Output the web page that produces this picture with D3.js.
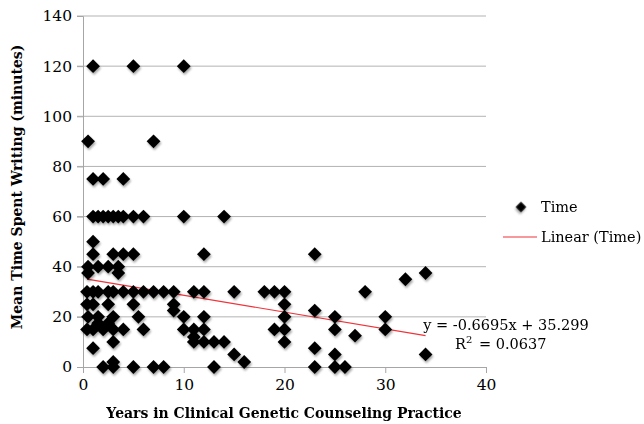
<!DOCTYPE html>
<html>
<head>
<meta charset="utf-8">
<script src="https://cdn.jsdelivr.net/npm/d3@7"></script>
<style>
  body { margin: 0; background: #fff; }
  text { font-family: "DejaVu Serif", "Liberation Serif", serif; fill: #000; }
</style>
</head>
<body>
<div id="chart"></div>
<script>
// years in practice / mean minutes spent writing
const years = [
    1, 5, 10,
    0.5, 7,
    1, 2, 4,
    1, 1.5, 2, 2.5, 3, 3.5, 4, 5, 6, 10, 14,
    1,
    1, 3, 4, 5, 12, 23,
    0.5, 1.5, 2.5, 3.5,
    0.5, 3.5, 34,
    32,
    0.4, 1, 1.5, 2.5, 3, 4, 5, 6, 7, 8, 9, 11, 12, 15, 18, 19, 20, 28,
    0.4, 1, 2.5, 5, 9, 20,
    9, 23,
    0.5, 1.5, 3, 5.5, 10, 12, 20, 25, 30,
    0.4, 1, 2, 3, 4, 6, 10, 11, 12, 19, 20, 25, 30,
    1.5, 2.5, 11, 27,
    3, 11, 12, 13, 14, 20,
    1, 23,
    15, 25, 34,
    3, 16,
    2, 3, 5, 7, 8, 13, 23, 25, 26
];
const minutes = [
    120, 120, 120,
    90, 90,
    75, 75, 75,
    60, 60, 60, 60, 60, 60, 60, 60, 60, 60, 60,
    50,
    45, 45, 45, 45, 45, 45,
    40, 40, 40, 40,
    37.5, 37.5, 37.5,
    35,
    30, 30, 30, 30, 30, 30, 30, 30, 30, 30, 30, 30, 30, 30, 30, 30, 30, 30,
    25, 25, 25, 25, 25, 25,
    22.5, 22.5,
    20, 20, 20, 20, 20, 20, 20, 20, 20,
    15, 15, 15, 15, 15, 15, 15, 15, 15, 15, 15, 15, 15,
    17.5, 17.5, 12, 12.5,
    10, 10, 10, 10, 10, 10,
    7.5, 7.5,
    5, 5, 5,
    2, 2,
    0, 0, 0, 0, 0, 0, 0, 0, 0
];
const xTicks = [0, 10, 20, 30, 40];
const yTicks = [0, 20, 40, 60, 80, 100, 120, 140];
const trendSlope = -0.6695;
const trendIntercept = 35.299;
const equationText = 'y = -0.6695x + 35.299';
const rSquaredText = ' = 0.0637';

const width = 644, height = 424;
const margin = {top: 16, right: 157, bottom: 57, left: 83};

const svg = d3.select('#chart')
    .append('svg')
    .attr('width', width)
    .attr('height', height);

const defs = svg.append('defs');
const shadow = defs.append('filter')
    .attr('id', 'shadow')
    .attr('x', '-50%').attr('y', '-50%')
    .attr('width', '200%').attr('height', '200%');
shadow.append('feDropShadow')
    .attr('dx', 1).attr('dy', 2)
    .attr('stdDeviation', 1.2)
    .attr('flood-color', '#000')
    .attr('flood-opacity', 0.35);

const x = d3.scaleLinear()
    .domain([0, 40])
    .range([margin.left, width - margin.right - 1]);

const y = d3.scaleLinear()
    .domain([0, 140])
    .range([height - margin.bottom, margin.top]);

// gridlines
svg.append('g')
    .selectAll('line')
    .data(yTicks.filter(d => d > 0))
    .enter()
    .append('line')
    .attr('x1', x(0) - 6)
    .attr('x2', x(40))
    .attr('y1', d => y(d))
    .attr('y2', d => y(d))
    .attr('stroke', '#b3b3b3')
    .attr('stroke-width', 1);

// y axis
const yAxis = svg.append('g')
    .attr('transform', `translate(${x(0)},0)`)
    .call(d3.axisLeft(y).tickValues(yTicks).tickSize(6).tickPadding(5));
yAxis.select('.domain').attr('stroke', '#a6a6a6');
yAxis.selectAll('.tick line').attr('stroke', '#a6a6a6');
yAxis.selectAll('.tick text')
    .style('font-size', '15.5px')
    .style('font-family', '"DejaVu Serif", serif');

// x axis
const xAxis = svg.append('g')
    .attr('transform', `translate(0,${y(0)})`)
    .call(d3.axisBottom(x).tickValues(xTicks).tickSize(6).tickPadding(6));
xAxis.select('.domain').attr('stroke', '#a6a6a6');
xAxis.selectAll('.tick line').attr('stroke', '#a6a6a6');
xAxis.selectAll('.tick text')
    .style('font-size', '15.5px')
    .style('font-family', '"DejaVu Serif", serif');

// trend line over the data range
const xMin = d3.min(years), xMax = d3.max(years);
svg.append('line')
    .attr('x1', x(xMin))
    .attr('y1', y(trendSlope * xMin + trendIntercept))
    .attr('x2', x(xMax))
    .attr('y2', y(trendSlope * xMax + trendIntercept))
    .attr('stroke', '#f0333a')
    .attr('stroke-width', 1.2);

// points
const points = years.map((v, i) => ({x: v, y: minutes[i]}));
const diamond = d3.symbol().type(d3.symbolSquare).size(95);

svg.append('g')
    .attr('filter', 'url(#shadow)')
    .selectAll('path')
    .data(points)
    .enter()
    .append('path')
    .attr('d', diamond)
    .attr('transform', d => `translate(${x(d.x)},${y(d.y)}) rotate(45)`)
    .attr('fill', '#000');

// equation
svg.append('text')
    .attr('x', 506)
    .attr('y', 330)
    .attr('text-anchor', 'middle')
    .style('font-size', '14.5px')
    .text(equationText);

const r2 = svg.append('text')
    .attr('x', 455)
    .attr('y', 349)
    .style('font-size', '14.5px');
r2.append('tspan').text('R');
r2.append('tspan')
    .attr('dy', -6)
    .style('font-size', '10px')
    .text('2');
r2.append('tspan')
    .attr('dy', 6)
    .attr('dx', 2)
    .text(rSquaredText);

// legend
const legend = svg.append('g');
legend.append('path')
    .attr('d', d3.symbol().type(d3.symbolSquare).size(55))
    .attr('transform', 'translate(521,207) rotate(45)')
    .attr('fill', '#000')
    .attr('filter', 'url(#shadow)');
legend.append('text')
    .attr('x', 541)
    .attr('y', 212)
    .style('font-size', '14.5px')
    .text('Time');
legend.append('line')
    .attr('x1', 503).attr('x2', 537)
    .attr('y1', 237).attr('y2', 237)
    .attr('stroke', '#f0333a')
    .attr('stroke-width', 1.2);
legend.append('text')
    .attr('x', 541)
    .attr('y', 242)
    .style('font-size', '14.5px')
    .text('Linear (Time)');

// axis titles
svg.append('text')
    .attr('x', 284)
    .attr('y', 418)
    .attr('text-anchor', 'middle')
    .style('font-size', '14px')
    .style('font-weight', 'bold')
    .text('Years in Clinical Genetic Counseling Practice');

svg.append('text')
    .attr('transform', 'rotate(-90)')
    .attr('x', -187)
    .attr('y', 22)
    .attr('text-anchor', 'middle')
    .style('font-size', '14px')
    .style('font-weight', 'bold')
    .text('Mean Time Spent Writing (minutes)');
</script>
</body>
</html>
